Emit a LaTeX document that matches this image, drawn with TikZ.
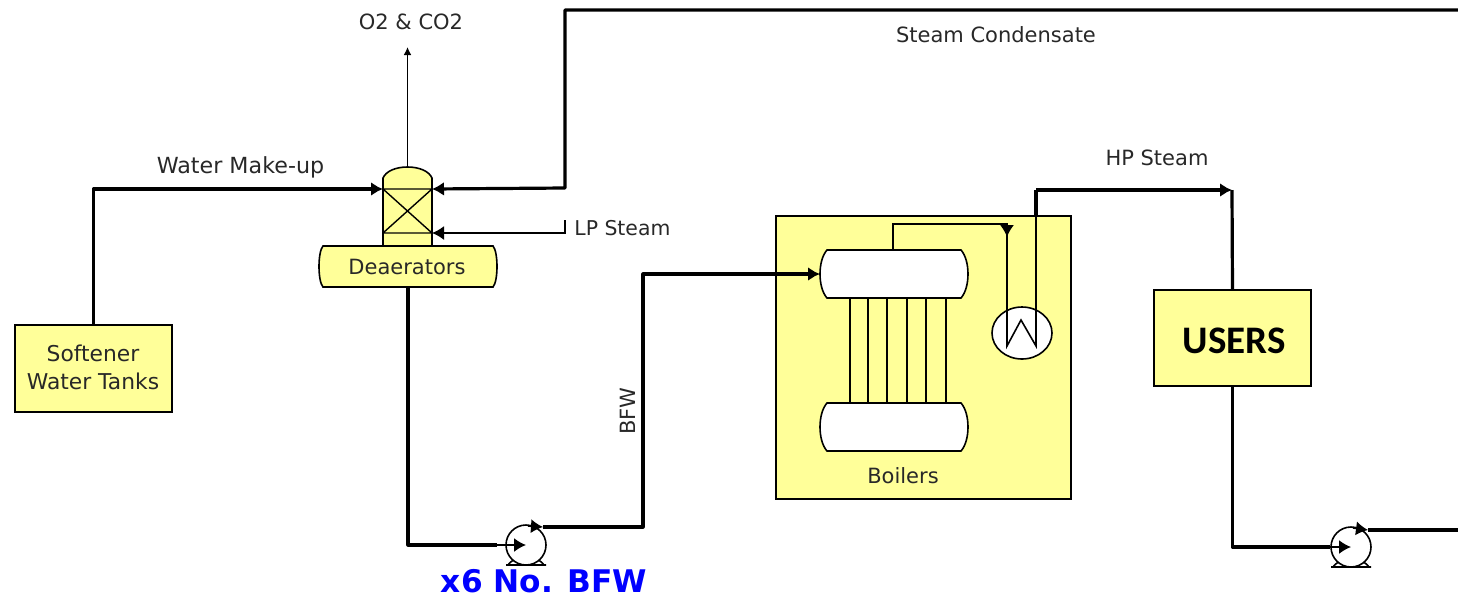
\documentclass[tikz,border=0pt]{standalone}
\usepackage{fontspec}
\setmainfont{DejaVu Sans}
\newfontfamily\usersfont{Carlito}
\usetikzlibrary{positioning, arrows.meta, shapes.geometric}
\definecolor{equip}{RGB}{255,255,153}
\definecolor{flowtext}{RGB}{40,40,40}
\tikzset{>={Latex[length=6pt,width=7pt]}}
\tikzset{
    thickline/.style={line width=1.6pt, line join=round},
    thinline/.style={line width=0.8pt},
    smalltip/.style={-{Latex[length=4pt,width=4pt]}},
    equipbox/.style={draw, line width=0.8pt, fill=equip, align=center, inner sep=0pt, outer sep=0pt},
    flowlabel/.style={text=flowtext, font=\fontsize{10.5}{14}\selectfont, inner sep=0pt, align=center}
}
% args: name, left, top, right, bottom, bulge, fill, text
\newcommand{\drumshape}[8]{
    \draw[line width=0.8pt, fill=#7] (#2+#6,#3) -- (#4-#6,#3)
        .. controls (#4+#6/3,#3+#6*1.5) and (#4+#6/3,#5-#6*1.5) .. (#4-#6,#5)
        -- (#2+#6,#5)
        .. controls (#2-#6/3,#5-#6*1.5) and (#2-#6/3,#3+#6*1.5) .. (#2+#6,#3) -- cycle;
    \node[flowlabel, minimum width={(#4-#2)*0.5pt}, minimum height={(#5-#3)*0.5pt}, outer sep=0pt]
        (#1) at ({(#2+#4)/2},{(#3+#5)/2}) {#8};
}
% args: name, x, y
\newcommand{\pumpshape}[3]{
    \draw[line width=0.8pt] (#2-20,#3+20) -- (#2+20,#3+20)
        (#2-18,#3+20) to[bend left=20] (#2-9,#3+14)
        (#2+18,#3+20) to[bend right=20] (#2+9,#3+14);
    \node[circle, draw, line width=0.8pt, fill=white, minimum size=20pt, inner sep=0pt, outer sep=0pt] (#1) at (#2,#3) {};
}

\begin{document}
\begin{tikzpicture}[x=0.5pt, y=-0.5pt]
    \useasboundingbox (0,0) rectangle (1458,596);

    % equipment
    \node[equipbox, minimum width=78.5pt, minimum height=43.5pt] (softener) at (93.5,368.5) {};
    \node[equipbox, minimum width=147.5pt, minimum height=141.5pt] (boilerbox) at (923.5,357.5) {};
    \node[equipbox, minimum width=78.5pt, minimum height=48pt] (users) at (1232.5,338) {};

    \draw[line width=0.8pt, fill=equip] (383,246) -- (383,178) .. controls (386,171) and (396,167) .. (407.5,167)
        .. controls (419,167) and (429,171) .. (432,178) -- (432,246) -- cycle;
    \draw[line width=0.7pt] (383,189) coordinate (colNW) -- (432,189) coordinate (colNE)
        (383,233) coordinate (colSW) -- (432,233) coordinate (colSE)
        (colNW) -- (colSE) (colNE) -- (colSW);
    \coordinate (coltop) at (407.5,167);
    \drumshape{deaerator}{319}{246}{497}{287}{4}{equip}{}

    \foreach \tubex in {850,868,887,907,926,946}
        \draw[line width=0.8pt] (\tubex,298) -- (\tubex,403);
    \drumshape{steamdrum}{820}{250}{968}{298}{7}{white}{}
    \drumshape{muddrum}{820}{403}{968}{451}{7}{white}{}
    \node[ellipse, draw, line width=0.8pt, fill=white, minimum width=30pt, minimum height=26pt, inner sep=0pt, outer sep=0pt] (heater) at (1022,333) {};
    \pumpshape{bfwpump}{526}{545}
    \pumpshape{userpump}{1351}{547}

    % free ends and bends
    \coordinate (condensate) at (1458,10);
    \coordinate (condbend) at (565,10);
    \coordinate (condin) at (565,188);
    \coordinate (lpstart) at (565,220);
    \coordinate (o2out) at (407.5,47);
    \coordinate (bfwin) at (497,545);
    \coordinate (bfwout) at (543,527);
    \coordinate (bfwbend) at (643,527);
    \coordinate (drumtop) at (893,250);
    \coordinate (coilbend) at (893,224);
    \coordinate (coiltop) at (1007,224);
    \coordinate (coiltip) at (1007,237);
    \coordinate (coilA) at (1007,346);
    \coordinate (coilB) at (1021,320);
    \coordinate (coilC) at (1036,346);
    \coordinate (boilertop) at (1036,216);
    \coordinate (hpbend) at (1036,190);
    \coordinate (hpend) at (1232,190);
    \coordinate (userin) at (1330,547);
    \coordinate (userout) at (1368,530);
    \coordinate (userend) at (1458,530);

    % process lines
    \draw[thickline, ->] (softener.north) |- (colNW);
    \draw[thickline, ->] (condensate) -- (condbend) -- (condin) -- (colNE);
    \draw[thinline, ->] (lpstart) |- (colSE);
    \draw[thinline, smalltip] (coltop) -- (o2out);
    \draw[thickline] (deaerator.south) |- (bfwin);
    \draw[thinline, ->] (bfwin) -- (bfwpump.center);
    \draw[thinline, ->] (bfwpump.north) ++(2,1) -- (bfwout);
    \draw[thickline, ->] (bfwout) -- (bfwbend) |- (steamdrum.west);
    \draw[thinline] (drumtop) -- (coilbend) -- (coiltop) -- (coilA) -- (coilB) -- (coilC) -- (boilertop);
    \draw[thinline, ->] (coiltop) -- (coiltip);
    \draw[thickline] (boilertop) -- (hpbend);
    \draw[thickline, ->] (hpbend) -- (hpend);
    \draw[thickline] (hpend) -- (users.north);
    \draw[thickline] (users.south) |- (userin);
    \draw[thinline, ->] (userin) -- (userpump.center);
    \draw[thinline, ->] (userpump.north) ++(2,1) -- (userout);
    \draw[thickline] (userout) -- (userend);

    % labels
    \node[flowlabel, font=\fontsize{10.9}{14}\selectfont] (softenerlabel) at (93,367) {Softener\\Water Tanks};
    \node[flowlabel] (deaeratorlabel) at (407,267) {Deaerators};
    \node[font=\usersfont\fontsize{19.5}{21}\selectfont\bfseries, inner sep=0pt] (userslabel) at (1234,341) {USERS};
    \node[flowlabel] (o2label) at (411,22) {O2 \& CO2};
    \node[flowlabel] (condlabel) at (996,35) {Steam Condensate};
    \node[flowlabel, font=\fontsize{11.1}{14}\selectfont] (makeup) at (240.5,167) {Water Make-up};
    \node[flowlabel, anchor=west, font=\fontsize{10.2}{14}\selectfont] (lplabel) at (574,228) {LP Steam};
    \node[flowlabel] (hplabel) at (1157,158) {HP Steam};
    \node[flowlabel, rotate=90] (bfwlabel) at (628,411) {BFW};
    \node[flowlabel] (boilerlabel) at (903,476) {Boilers};
    \node[font=\fontsize{15.6}{18}\selectfont\bfseries, text=blue, inner sep=0pt] (pumplabel) at (544,581) {x6 No. BFW};
\end{tikzpicture}
\end{document}
